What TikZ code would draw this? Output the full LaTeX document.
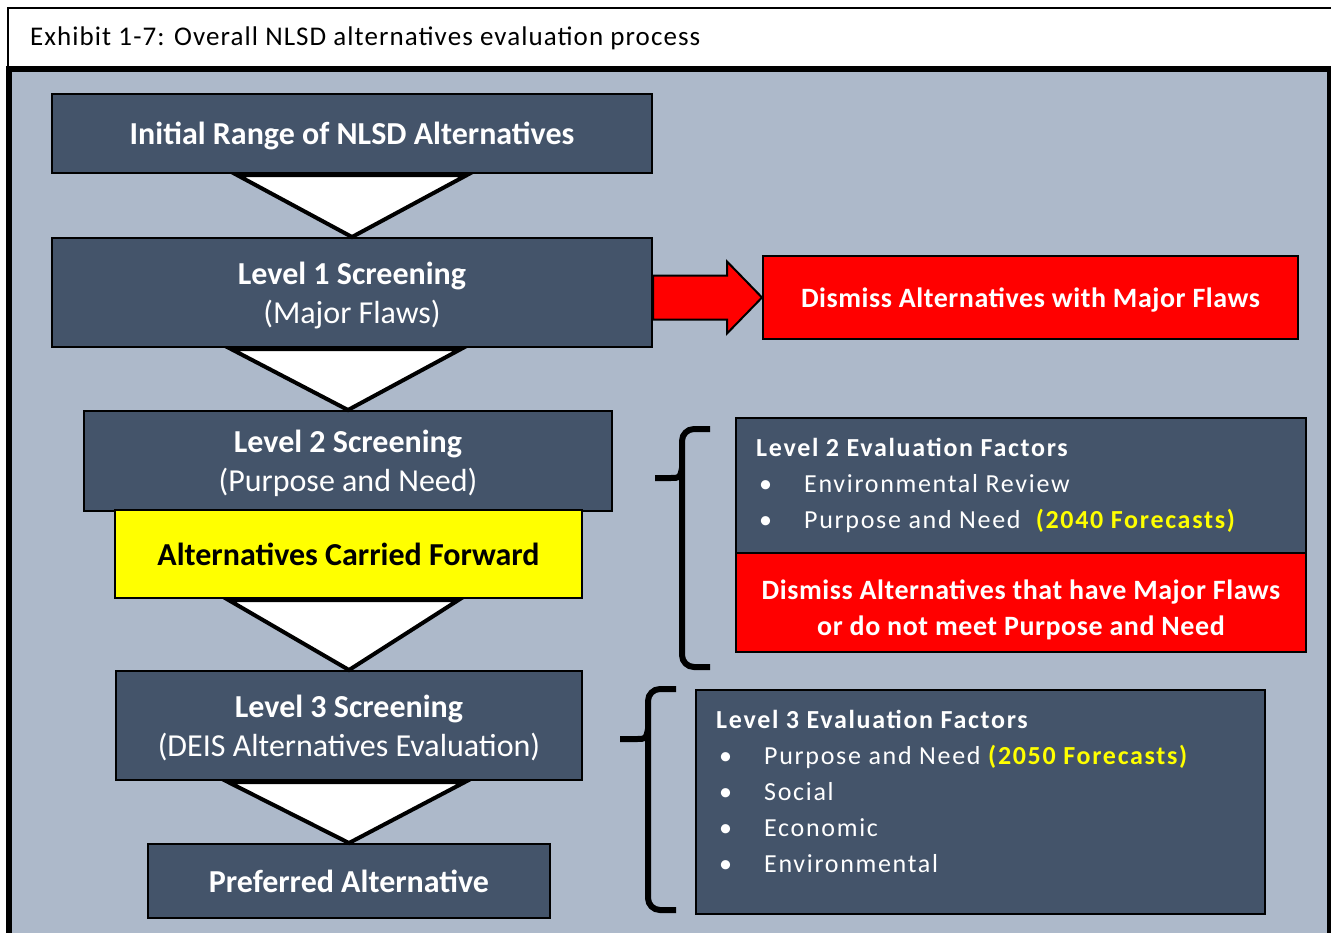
\documentclass[tikz,border=0pt]{standalone}
\usepackage{fontspec}
\setmainfont{Carlito}
\newfontfamily\titlefont[LetterSpace=4]{Carlito}
\newfontfamily\factfont[LetterSpace=6.5]{Carlito}
\newfontfamily\disfont[LetterSpace=2]{Carlito}
\usetikzlibrary{calc}

\definecolor{slate}{HTML}{44546A}
\definecolor{panel}{HTML}{ADB9CA}
\definecolor{flaw}{HTML}{FF0000}
\definecolor{carry}{HTML}{FFFF00}

\begin{document}
\begin{tikzpicture}[x=1pt,y=-1pt,line join=miter]
 	\tikzstyle{stage}=[rectangle,draw=black,line width=2pt,fill=slate,text=white,align=center,text depth=0pt,font=\fontsize{32}{39}\selectfont]
 	\tikzstyle{dismiss}=[stage,fill=flaw,font=\disfont\fontsize{28}{36}\selectfont\bfseries]
 	\tikzstyle{carried}=[stage,fill=carry,text=black,font=\fontsize{32}{39}\selectfont\bfseries]
 	\tikzstyle{factors}=[rectangle,draw=black,line width=2pt,fill=slate]
 	\tikzstyle{ftext}=[anchor=north west,inner sep=0pt,text=white,align=left,font=\factfont\fontsize{26}{36}\selectfont]
 	\tikzstyle{tri}=[draw=black,line width=4pt,fill=white]
 	\tikzstyle{brace}=[draw=black,line width=6pt,rounded corners=12pt]
 	\tikzstyle{bigarrow}=[draw=black,line width=2pt,fill=flaw]
 	\def\bul{\hspace*{3pt}\makebox[45pt][l]{\textbullet}}
 	\def\fc#1{\textcolor{carry}{\bfseries #1}}

 	\useasboundingbox (0,0) rectangle (1331,932);

 	% header and panel
 	\draw[line width=2pt,fill=white] (8,8) rectangle (1345,67);
 	\node[anchor=west,inner sep=0pt,font=\titlefont\fontsize{27}{30}\selectfont] (title) at (30,38) {Exhibit 1-7: Overall NLSD alternatives evaluation process};
 	\draw[line width=6pt,fill=panel] (8.5,69) rectangle (1330,945);

 	% left column
 	\node[stage,minimum width=600pt,minimum height=79pt] 	(init)	at (352,133.5)	{\bfseries Initial Range of NLSD Alternatives};
 	\node[stage,minimum width=600pt,minimum height=109pt] 	(lvl1)	at (352,292.5)	{\bfseries Level 1 Screening\\(Major Flaws)};
 	\node[stage,minimum width=528pt,minimum height=100pt] 	(lvl2)	at (348,461)	{\bfseries Level 2 Screening\\(Purpose and Need)};
 	\node[carried,minimum width=467pt,minimum height=88pt] 	(fwd)	at (348.5,554)	{Alternatives Carried Forward};
 	\node[stage,minimum width=466pt,minimum height=109pt] 	(lvl3)	at (349,725.5)	{\bfseries Level 3 Screening\\(DEIS Alternatives Evaluation)};
 	\node[stage,minimum width=402pt,minimum height=74pt] 	(pref)	at (349,881)	{\bfseries Preferred Alternative};

 	\draw[tri] ($(init.south)+(-115,1)$) -- ($(init.south)+(115,1)$) -- (lvl1.north) -- cycle;
 	\draw[tri] ($(lvl1.south)+(-121,1)$) -- ($(lvl1.south)+(109,1)$) -- (lvl2.north) -- cycle;
 	\draw[tri] ($(fwd.south)+(-120,1)$) -- ($(fwd.south)+(110,1)$) -- (lvl3.north) -- cycle;
 	\draw[tri] ($(lvl3.south)+(-121,1)$) -- ($(lvl3.south)+(116,1)$) -- (pref.north) -- cycle;

 	% right column
 	\node[dismiss,minimum width=535pt,minimum height=83pt] 	(dis1)	at (1030.5,297.5)	{Dismiss Alternatives with Major Flaws};
 	\draw[bigarrow] ($(lvl1.east |- dis1.west)+(0,-22)$) -- ($(dis1.west)+(-35,-22)$) -- ($(dis1.west)+(-35,-36)$) -- (dis1.west)
 		-- ($(dis1.west)+(-35,36)$) -- ($(dis1.west)+(-35,22)$) -- ($(lvl1.east |- dis1.west)+(0,22)$) -- cycle;

 	\node[factors,minimum width=570pt,minimum height=135pt] (ev2)	at (1021,485.5)	{};
 	\node[dismiss,minimum width=570pt,minimum height=99pt] 	(dis2)	at (1021,602.5)	{\rule{0pt}{29pt}Dismiss Alternatives that have Major Flaws\\or do not meet Purpose and Need};
 	\node[ftext] (ev2t) at ($(ev2.north west)+(21,21)$)
 		{\textbf{Level 2 Evaluation Factors}\\\bul Environmental Review\\\bul Purpose and Need\ \ \fc{(2040 Forecasts)}};

 	\node[factors,minimum width=569pt,minimum height=224pt] (ev3)	at (980.5,802)	{};
 	\node[ftext] (ev3t) at ($(ev3.north west)+(21,21)$)
 		{\textbf{Level 3 Evaluation Factors}\\\bul Purpose and Need \fc{(2050 Forecasts)}\\\bul Social\\\bul Economic\\\bul Environmental};

 	% braces
 	\draw[brace] (710,429) -- (682,429) -- (682,667) -- (710,667);
 	\draw[line width=6pt] (655,478) -- (670,478) .. controls (680,478) .. (682,468);
 	\draw[brace] (676,689) -- (648,689) -- (648,910) -- (676,910);
 	\draw[line width=6pt] (620,739) -- (636,739) .. controls (646,739) .. (648,729);
 	%\draw[brace] (655,478) -- (682,478);
\end{tikzpicture}
\end{document}
